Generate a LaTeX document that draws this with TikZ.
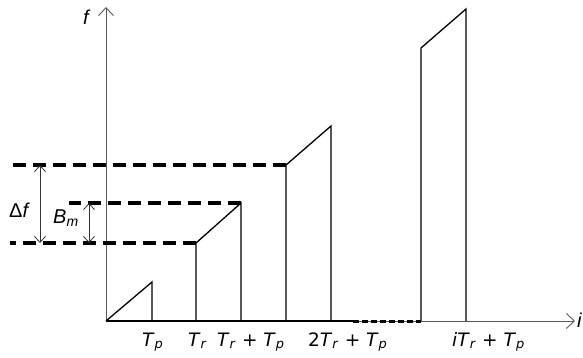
\documentclass[tikz,border=0pt]{standalone}
\usepackage{fontspec}
\setmainfont{Liberation Sans}
\newfontfamily\ticfont{DejaVu Sans}
\usetikzlibrary{arrows.meta}
\newcommand{\tsub}[2]{\textit{#1}\textsubscript{\textit{#2}}}

\begin{document}
\begin{tikzpicture}[
    x=1pt, y=-1pt,
    every node/.style={font=\fontsize{20}{24}\selectfont, inner sep=0pt},
    tic/.style={font=\ticfont\fontsize{18.5}{22}\selectfont, anchor=base west},
    axis/.style={draw=gray!70!black, line width=0.9pt, -{Straight Barb[length=8pt,width=15pt]}},
    pulse/.style={draw=black, line width=1.3pt},
    level/.style={draw=black, line width=3.5pt, dash pattern=on 13pt off 7pt},
    gapline/.style={draw=black, line width=3pt, dash pattern=on 6pt off 3pt},
    span/.style={draw=black!80, line width=0.8pt,
                 {Straight Barb[length=6pt,width=11pt]}-{Straight Barb[length=6pt,width=11pt]}},
]
\useasboundingbox (0,0) rectangle (583,358);

\coordinate (O) at (106,321);
\coordinate (ytop) at (106,7);
\coordinate (xend) at (575,321);
\coordinate (solidend) at (353,321);

\coordinate (a0) at (152,321);
\coordinate (a1) at (152,282);
\coordinate (b0) at (196,321);
\coordinate (b1) at (196,243);
\coordinate (b2) at (241,203);
\coordinate (b3) at (241,321);
\coordinate (c0) at (286,321);
\coordinate (c1) at (286,165);
\coordinate (c2) at (331,126);
\coordinate (c3) at (331,321);
\coordinate (d0) at (421,321);
\coordinate (d1) at (421,48);
\coordinate (d2) at (466,9);
\coordinate (d3) at (466,321);

\coordinate (hi) at (10,165);
\coordinate (mid) at (69,203);
\coordinate (lo) at (10,243);
\coordinate (df1) at (40,165);
\coordinate (df2) at (40,243);
\coordinate (bm1) at (89,203);
\coordinate (bm2) at (89,243);

\draw[axis] (O) -- (ytop);
\draw[axis] (O) -- (xend);

\draw[pulse] (O) -- (a1) -- (a0);
\draw[pulse] (b0) -- (b1) -- (b2) -- (b3);
\draw[pulse] (c0) -- (c1) -- (c2) -- (c3);
\draw[pulse] (d0) -- (d1) -- (d2) -- (d3);
\draw[pulse] (O) -- (solidend);
\draw[gapline] (solidend) -- (d0);

\draw[level] (c1) -- (hi);
\draw[level] (b2) -- (mid);
\draw[level] (b1) -- (lo);

\draw[span] (df1) -- (df2);
\draw[span] (bm1) -- (bm2);

\node[anchor=base west] (flab) at (83,25) {\textit{f}};
\node[anchor=base west] (ilab) at (577,327) {\textit{i}};
\node[anchor=base west] (dflab) at (9,217) {Δ\textit{f}};
\node[anchor=base west] (bmlab) at (53,223) {\tsub{B}{m}};

\node[tic] (tp) at (142,346) {\tsub{T}{p}};
\node[tic] (tr) at (188,346) {\tsub{T}{r}};
\node[tic] (trp) at (217,346) {\tsub{T}{r} + \tsub{T}{p}};
\node[tic] (ttrp) at (308,346) {2\tsub{T}{r} + \tsub{T}{p}};
\node[tic] (itrp) at (452,346) {\textit{i}\tsub{T}{r} + \tsub{T}{p}};
\end{tikzpicture}
\end{document}
